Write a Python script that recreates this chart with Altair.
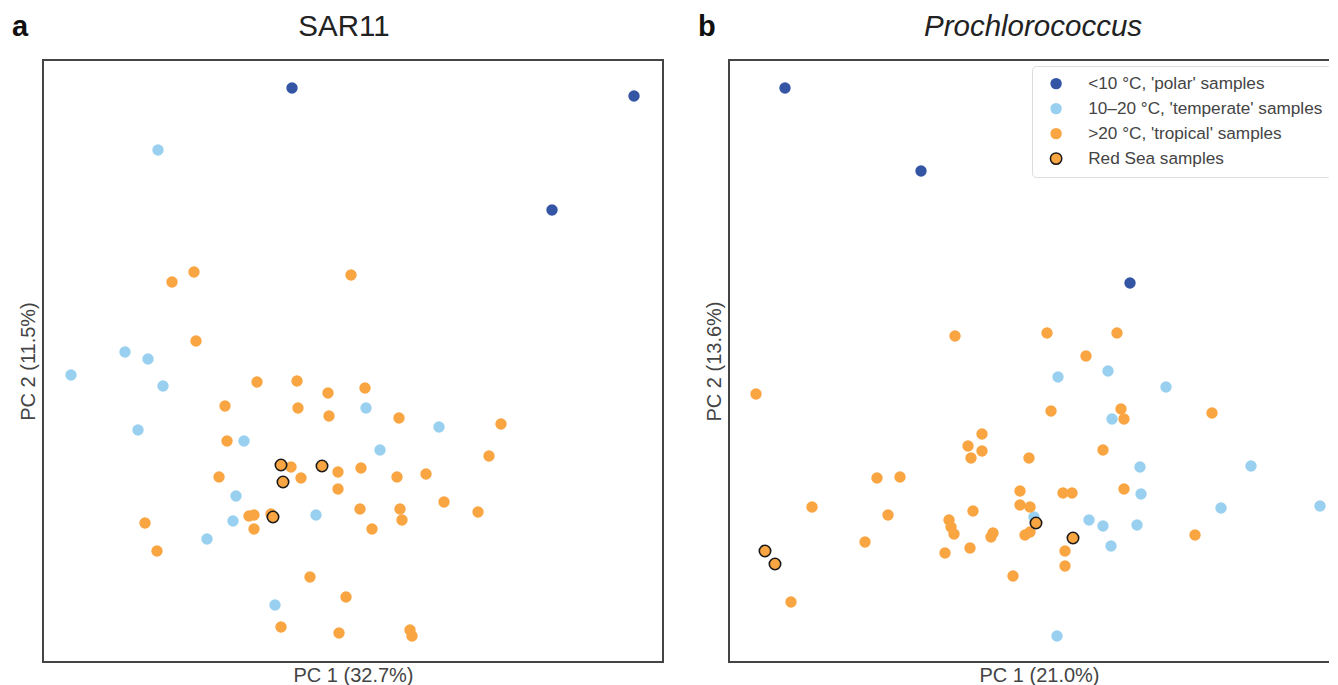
import altair as alt
import pandas as pd

GROUPS = ["<10 °C, 'polar' samples", "10–20 °C, 'temperate' samples",
          ">20 °C, 'tropical' samples", "Red Sea samples"]
COLORS = ["#3454a4", "#99d0f0", "#f9a541", "#f9a541"]
EDGES = ["rgba(0,0,0,0)", "rgba(0,0,0,0)", "rgba(0,0,0,0)", "#1a1a1a"]
FONT = "Liberation Sans"

# ---------- SAR11 (panel a) : PC1 / PC2 scores (arbitrary units) ----------
sar_polar_pc1 = [249, 591, 509]
sar_polar_pc2 = [574, 566, 452]

sar_temp_pc1 = [115, 82, 105, 28, 120, 95, 201, 323, 396, 337, 193, 190, 164, 273, 232]
sar_temp_pc2 = [512, 310, 303, 287, 276, 232, 221, 254, 235, 212, 166, 141, 123, 147, 57]

sar_trop_pc1 = [151, 129, 308, 153, 214, 254, 285, 322, 182, 255, 286, 356, 458, 184,
                446, 248, 295, 318, 176, 258, 354, 383, 295, 401, 317, 357, 435, 359,
                329, 206, 211, 228, 211, 102, 114, 267, 303, 238, 296, 367, 369]
sar_trop_pc2 = [390, 380, 387, 321, 280, 281, 269, 274, 256, 254, 246, 244, 238, 221,
                206, 195, 190, 194, 185, 184, 185, 188, 173, 160, 153, 153, 150, 142,
                133, 146, 147, 148, 133, 139, 111, 85, 65, 35, 29, 32, 26]

sar_red_pc1 = [238, 279, 240, 230]
sar_red_pc2 = [197, 196, 180, 145]

# ---------- Prochlorococcus (panel b) ----------
pro_polar_pc1 = [56, 192, 401]
pro_polar_pc2 = [574, 491, 379]

pro_temp_pc1 = [329, 379, 437, 383, 411, 522, 412, 492, 591, 305, 360, 374, 408, 382, 328]
pro_temp_pc2 = [285, 291, 275, 243, 195, 196, 168, 154, 156, 145, 142, 136, 137, 116, 26]

pro_trop_pc1 = [226, 318, 388, 357, 27, 322, 392, 395, 483, 253, 239, 253, 242, 300,
                374, 148, 171, 83, 159, 291, 334, 343, 395, 291, 301, 244, 220, 222,
                225, 264, 262, 296, 301, 136, 216, 241, 336, 336, 284, 466, 62]
pro_trop_pc2 = [326, 329, 329, 306, 268, 251, 253, 243, 249, 228, 216, 211, 204, 204,
                212, 184, 185, 155, 147, 171, 169, 169, 173, 157, 155, 151, 142, 135,
                128, 129, 125, 127, 130, 120, 109, 114, 111, 96, 86, 127, 60]

pro_red_pc1 = [36, 46, 307, 344]
pro_red_pc2 = [111, 98, 139, 124]


def frame(groups):
    rows = []
    for g, (xs, ys) in zip(GROUPS, groups):
        for x, y in zip(xs, ys):
            rows.append({"pc1": x, "pc2": y, "group": g})
    return pd.DataFrame(rows)


sar_df = frame([(sar_polar_pc1, sar_polar_pc2), (sar_temp_pc1, sar_temp_pc2),
                (sar_trop_pc1, sar_trop_pc2), (sar_red_pc1, sar_red_pc2)])
pro_df = frame([(pro_polar_pc1, pro_polar_pc2), (pro_temp_pc1, pro_temp_pc2),
                (pro_trop_pc1, pro_trop_pc2), (pro_red_pc1, pro_red_pc2)])

W, H = 620, 602


def panel(df, title, italic, letter, title_x, xtitle, ytitle, show_legend):
    legend = None
    if show_legend:
        legend = alt.Legend(
            title=None, orient="none", legendX=303, legendY=6, padding=9,
            strokeColor="#dcdcdc", cornerRadius=4, fillColor="white",
            labelFont=FONT, labelFontSize=17.2, labelColor="#444", labelLimit=400,
            labelOffset=23.5, symbolOffset=6.5, symbolSize=130, symbolType="circle",
            symbolStrokeWidth=1.5, symbolOpacity=1, rowPadding=6,
        )
    pts = alt.Chart(df).mark_circle(size=130, opacity=1, strokeWidth=1.6).encode(
        x=alt.X("pc1:Q", scale=alt.Scale(domain=[0, W], nice=False, zero=False),
                axis=alt.Axis(title=xtitle, labels=False, ticks=False, domain=False,
                              grid=False, titleFont=FONT, titleFontSize=20,
                              titleFontWeight="normal", titleColor="#444",
                              titlePadding=3)),
        y=alt.Y("pc2:Q", scale=alt.Scale(domain=[0, H], nice=False, zero=False),
                axis=alt.Axis(title=ytitle, labels=False, ticks=False, domain=False,
                              grid=False, titleFont=FONT, titleFontSize=20,
                              titleFontWeight="normal", titleColor="#444",
                              titlePadding=5)),
        color=alt.Color("group:N", scale=alt.Scale(domain=GROUPS, range=COLORS),
                        legend=legend),
        stroke=alt.Stroke("group:N", scale=alt.Scale(domain=GROUPS, range=EDGES),
                          legend=legend),
    )
    lab = alt.Chart(pd.DataFrame({"t": [letter]})).mark_text(
        font=FONT, fontSize=29, fontWeight="bold", align="left",
        baseline="alphabetic", color="#111"
    ).encode(x=alt.value(-31), y=alt.value(-24), text="t:N")
    ttl = alt.Chart(pd.DataFrame({"t": [title]})).mark_text(
        font=FONT, fontSize=29.5, fontWeight="normal",
        fontStyle="italic" if italic else "normal", align="center",
        baseline="alphabetic", color="#222"
    ).encode(x=alt.value(title_x), y=alt.value(-24), text="t:N")
    return alt.layer(pts, lab, ttl).properties(width=W, height=H)


a = panel(sar_df, "SAR11", False, "a", 301, "PC 1 (32.7%)", "PC 2 (11.5%)", False)
b = panel(pro_df, "Prochlorococcus", True, "b", 304, "PC 1 (21.0%)", "PC 2 (13.6%)", True)

chart = alt.hconcat(a, b, spacing=33).resolve_legend(
    color="independent", stroke="independent"
).configure_view(stroke="#444", strokeWidth=2).properties(
    padding={"left": 3, "top": 3, "right": -21, "bottom": 0}
)

chart.save("out.html", embed_options={"renderer": "svg", "actions": False})
